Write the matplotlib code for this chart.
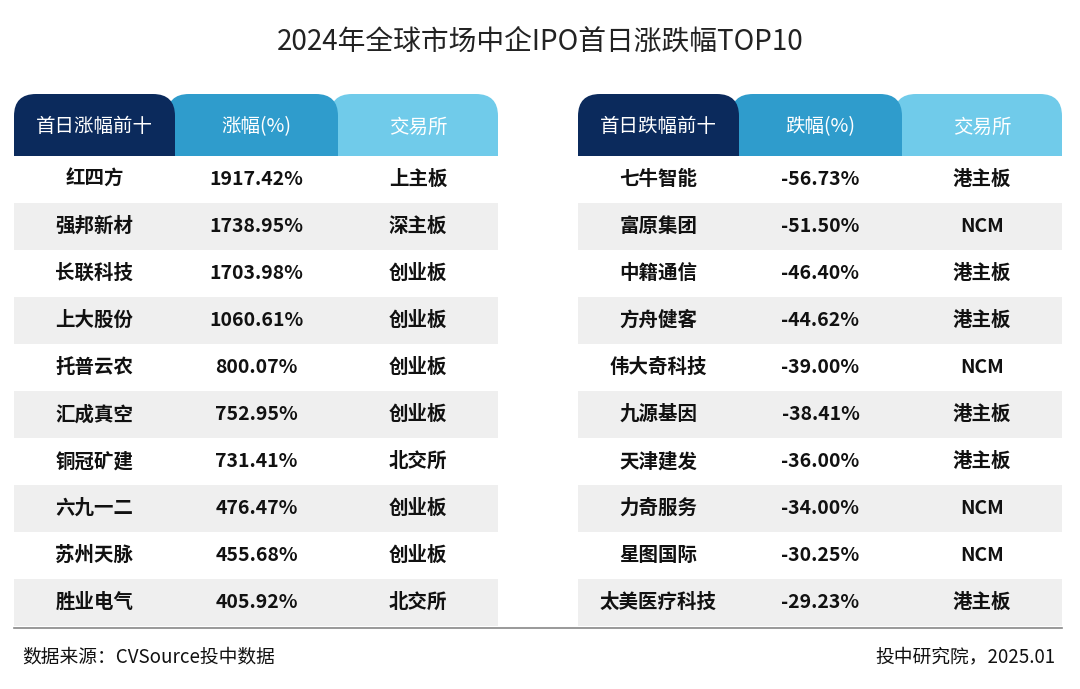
import matplotlib.pyplot as plt
from matplotlib.patches import FancyBboxPatch, Rectangle

plt.rcParams['font.family'] = ['Noto Sans CJK SC', 'DejaVu Sans']

title = '2024年全球市场中企IPO首日涨跌幅TOP10'
up_headers = ['首日涨幅前十', '涨幅(%)', '交易所']
up_names = ['红四方', '强邦新材', '长联科技', '上大股份', '托普云农', '汇成真空',
            '铜冠矿建', '六九一二', '苏州天脉', '胜业电气']
up_pct = [1917.42, 1738.95, 1703.98, 1060.61, 800.07, 752.95, 731.41, 476.47, 455.68, 405.92]
up_exch = ['上主板', '深主板', '创业板', '创业板', '创业板', '创业板', '北交所', '创业板', '创业板', '北交所']

down_headers = ['首日跌幅前十', '跌幅(%)', '交易所']
down_names = ['七牛智能', '富原集团', '中籍通信', '方舟健客', '伟大奇科技', '九源基因',
              '天津建发', '力奇服务', '星图国际', '太美医疗科技']
down_pct = [-56.73, -51.50, -46.40, -44.62, -39.00, -38.41, -36.00, -34.00, -30.25, -29.23]
down_exch = ['港主板', 'NCM', '港主板', '港主板', 'NCM', '港主板', '港主板', 'NCM', 'NCM', '港主板']

source = '数据来源：CVSource投中数据'
credit = '投中研究院，2025.01'

tab_colors = ['#0b2a5c', '#2f9ccc', '#70cbea']
row_gray = '#efefef'

fig = plt.figure(figsize=(10.8, 6.89), dpi=100)
ax = fig.add_axes([0, 0, 1, 1])
ax.set_xlim(0, 1080)
ax.set_ylim(689, 0)
ax.axis('off')

ax.text(540, 42, title, ha='center', va='center', fontsize=20, color='#222222',
        fontweight='medium')


def draw_table(x0, headers, names, vals, exch):
    edges = [x0, x0 + 161, x0 + 324, x0 + 484]
    tabs = [x0, x0 + 153, x0 + 316, x0 + 484]
    top, hbot, rh = 94, 156, 47
    for i in [2, 1, 0]:
        w = tabs[i + 1] - tabs[i] + (8 if i < 2 else 0)
        ax.add_patch(FancyBboxPatch((tabs[i], top), w, 90,
                                    boxstyle='round,pad=0,rounding_size=22',
                                    fc=tab_colors[i], ec='none', zorder=1))
    ax.add_patch(Rectangle((x0 - 5, hbot), 500, 100, fc='white', ec='none', zorder=2))
    for i, h in enumerate(headers):
        cx = (edges[i] + edges[i + 1]) / 2
        ax.text(cx, 127, h, ha='center', va='center', fontsize=14,
                color='white', fontweight='medium', zorder=3)
    for r in range(len(names)):
        y = hbot + r * rh
        if r % 2 == 1:
            ax.add_patch(Rectangle((x0, y), 484, rh, fc=row_gray, ec='none', zorder=2))
        cells = [names[r], f'{vals[r]:.2f}%', exch[r]]
        for i, c in enumerate(cells):
            cx = (edges[i] + edges[i + 1]) / 2
            ax.text(cx, y + rh / 2, c, ha='center', va='center', fontsize=14,
                    color='#111111', fontweight='bold', zorder=3)


draw_table(14, up_headers, up_names, up_pct, up_exch)
draw_table(578, down_headers, down_names, down_pct, down_exch)

ax.plot([14, 1062], [628, 628], color='#888888', lw=1.2)
ax.text(22, 657, source, ha='left', va='center', fontsize=13.5, color='#111111',
        fontweight='medium')
ax.text(1055, 657, credit, ha='right', va='center', fontsize=13.5, color='#111111',
        fontweight='medium')

fig.savefig('out.png', dpi=100)
